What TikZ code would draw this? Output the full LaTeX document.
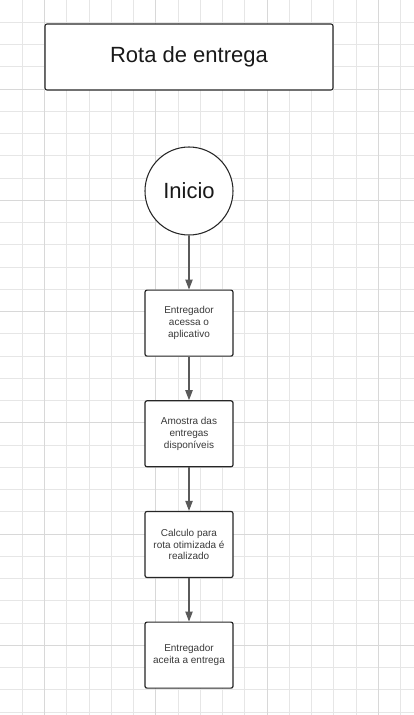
\documentclass[tikz,border=0pt]{standalone}
\usepackage{fontspec}
\setmainfont{Liberation Sans}
\usetikzlibrary{positioning, arrows.meta}

\definecolor{gridminor}{HTML}{E6E6E6}
\definecolor{gridmajor}{HTML}{D8D8D8}
\definecolor{edgegray}{HTML}{5A5A5A}
\definecolor{textgray}{HTML}{3A3A3A}

\begin{document}
\begin{tikzpicture}[
    x=0.75pt, y=-0.75pt,
    node distance=32.6pt,
    gridline/.style={draw=gridminor, line width=0.7pt},
    gridbold/.style={draw=gridmajor, line width=0.7pt},
    titlebox/.style={rectangle, draw=black!85, rounded corners=1.5pt, line width=0.8pt, minimum width=216pt, minimum height=49.5pt, fill=white, text=black!90, font=\fontsize{16.5}{19}\selectfont},
    terminal/.style={circle, draw=black!85, line width=0.8pt, minimum size=66pt, inner sep=0pt, fill=white, text=black!90, font=\fontsize{16.5}{19}\selectfont},
    box/.style={rectangle, draw=black!85, rounded corners=1.5pt, line width=0.9pt, minimum width=66pt, minimum height=49.5pt, inner sep=1pt, align=center, fill=white, text=textgray, font=\fontsize{7.5}{8.8}\selectfont},
    arrow/.style={-{Triangle[length=7.5pt, width=5.5pt]}, draw=edgegray, line width=0.9pt}
]
\useasboundingbox (0,0) rectangle (414,715);

% Background grid
\fill[white] (0,0) rectangle (414,715);
\foreach \k in {1,...,18} \draw[gridline] (\k*22.25,0) -- (\k*22.25,715);
\foreach \k in {1,...,32} \draw[gridline] (0,\k*22.25) -- (414,\k*22.25);
\foreach \k in {2,7,12,17} \draw[gridbold] (\k*22.25,0) -- (\k*22.25,715);
\foreach \k in {4,9,14,19,24,29} \draw[gridbold] (0,\k*22.25) -- (414,\k*22.25);

% Title
\node[titlebox] (title) at (189,57) {Rota de entrega};

% Start
\node[terminal] (inicio) at (189,191) {Inicio};

% Steps
\node[box, below=40.5pt of inicio] (acessa) {Entregador\\acessa o\\aplicativo};
\node[box, below=of acessa] (amostra) {Amostra das\\entregas\\disponíveis};
\node[box, below=of amostra] (calculo) {Calculo para\\rota otimizada é\\realizado};
\node[box, below=of calculo] (aceita) {Entregador\\aceita a entrega};

% Connections
\draw[arrow] (inicio) -- (acessa);
\draw[arrow] (acessa) -- (amostra);
\draw[arrow] (amostra) -- (calculo);
\draw[arrow] (calculo) -- (aceita);

\end{tikzpicture}
\end{document}
